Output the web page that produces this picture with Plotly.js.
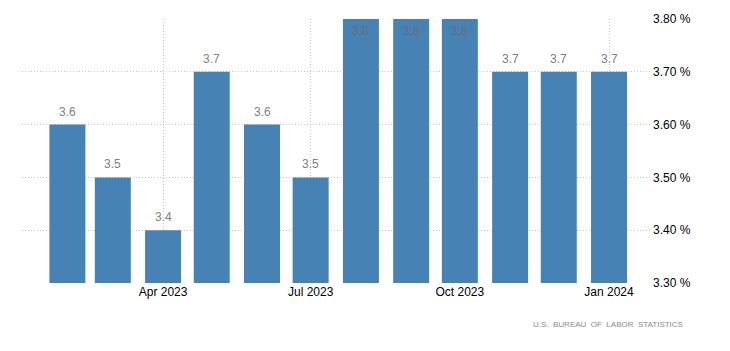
<!DOCTYPE html>
<html>
<head>
<meta charset="utf-8">
<script src="https://cdn.plot.ly/plotly-3.0.1.min.js"></script>
<style>
html,body{margin:0;padding:0;background:#fff;}
#chart{width:730px;height:351px;}
</style>
</head>
<body>
<div id="chart"></div>
<script>
var months = ['2023-02-01','2023-03-01','2023-04-01','2023-05-01','2023-06-01','2023-07-01','2023-08-01','2023-09-01','2023-10-01','2023-11-01','2023-12-01','2024-01-01'];
var rates = [3.6, 3.5, 3.4, 3.7, 3.6, 3.5, 3.8, 3.8, 3.8, 3.7, 3.7, 3.7];
var xTickVals = ['2023-04-01','2023-07-01','2023-10-01','2024-01-01'];
var xTickText = ['Apr 2023','Jul 2023','Oct 2023','Jan 2024'];
var yTickVals = [3.3, 3.4, 3.5, 3.6, 3.7, 3.8];
var sourceText = 'U.S.  BUREAU  OF  LABOR  STATISTICS';

var yMax = 3.8;
var DAY = 86400000;
var FONT = 'Liberation Sans, Arial, sans-serif';

var trace = {
  type: 'bar',
  x: months,
  y: rates,
  width: months.map(function(){ return 22.2 * DAY; }),
  marker: {color: '#4682b4'},
  cliponaxis: false,
  hoverinfo: 'skip'
};

var valueLabels = rates.map(function(v, i){
  var inside = v >= yMax;
  return {
    x: months[i], y: v,
    xref: 'x', yref: 'y',
    text: v.toFixed(1),
    showarrow: false,
    xanchor: 'center',
    yanchor: inside ? 'top' : 'bottom',
    yshift: inside ? -3 : 4,
    font: {family: FONT, size: 12, color: inside ? '#6e6e6e' : '#808080'}
  };
});

var layout = {
  width: 730,
  height: 351,
  margin: {l: 22, r: 78, t: 19, b: 68},
  paper_bgcolor: '#ffffff',
  plot_bgcolor: '#ffffff',
  showlegend: false,
  font: {family: FONT, size: 12, color: '#000000'},
  xaxis: {
    type: 'date',
    range: ['2023-01-04', '2024-01-27 12:00'],
    tickmode: 'array',
    tickvals: xTickVals,
    ticktext: xTickText,
    showgrid: true,
    gridcolor: '#c8c8c8',
    griddash: '1px,2px',
    gridwidth: 1,
    zeroline: false,
    showline: false,
    ticks: '',
    tickfont: {size: 12, color: '#000000'}
  },
  yaxis: {
    side: 'right',
    range: [3.3, 3.8],
    tickmode: 'array',
    tickvals: yTickVals,
    ticktext: yTickVals.map(function(v){ return v.toFixed(2) + ' %'; }),
    showgrid: true,
    gridcolor: '#c8c8c8',
    griddash: '1px,2px',
    gridwidth: 1,
    zeroline: false,
    showline: false,
    ticks: '',
    tickfont: {size: 12, color: '#000000'}
  },
  annotations: valueLabels.concat([{
    text: sourceText,
    xref: 'paper', yref: 'paper',
    x: 1.0524, y: -0.159,
    xanchor: 'right', yanchor: 'middle',
    showarrow: false,
    font: {family: FONT, size: 8, color: '#8a8a8a'}
  }])
};

Plotly.newPlot('chart', [trace], layout, {displayModeBar: false, staticPlot: true});
</script>
</body>
</html>
